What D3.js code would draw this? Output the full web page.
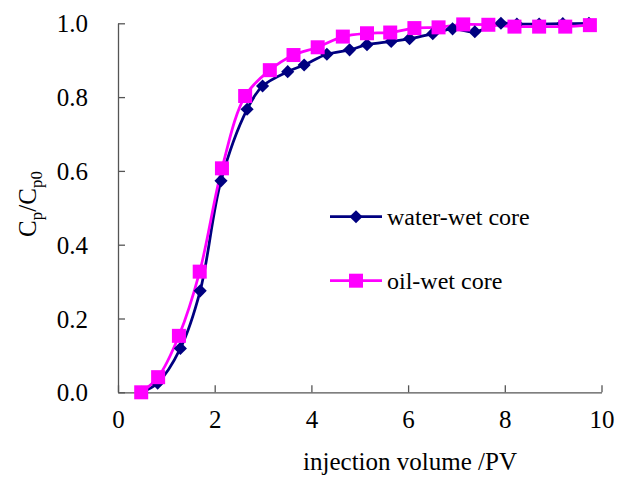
<!DOCTYPE html>
<html lang="en">
<head>
<meta charset="utf-8">
<script src="https://d3js.org/d3.v7.min.js"></script>
<style>
  body { margin: 0; background: #fff; }
  .axis path, .axis line { stroke: #555; stroke-width: 1.3; }
</style>
</head>
<body>
<svg id="chart" width="629" height="480"></svg>
<script>
// injection volume (PV) and Cp/Cp0
var waterX = [0.49, 0.82, 1.29, 1.70, 2.13, 2.67, 2.99, 3.51, 3.85, 4.32, 4.79, 5.15, 5.65, 6.03, 6.51, 6.92, 7.38, 7.92, 8.25, 8.71, 9.20, 9.74];
var waterY = [0.0, 0.025, 0.119, 0.275, 0.573, 0.767, 0.830, 0.869, 0.887, 0.916, 0.928, 0.942, 0.951, 0.958, 0.972, 0.985, 0.977, 1.0, 0.998, 0.998, 0.999, 1.0];
var oilX = [0.48, 0.83, 1.26, 1.69, 2.15, 2.63, 3.14, 3.63, 4.13, 4.65, 5.15, 5.63, 6.13, 6.63, 7.14, 7.66, 8.20, 8.71, 9.25, 9.76];
var oilY = [0.0, 0.041, 0.153, 0.327, 0.607, 0.803, 0.873, 0.914, 0.935, 0.964, 0.973, 0.975, 0.987, 0.989, 0.997, 0.996, 0.991, 0.991, 0.991, 0.995];
var xTicks = [0, 2, 4, 6, 8, 10];
var yTicks = [0, 0.2, 0.4, 0.6, 0.8, 1.0];

var font = "'Liberation Serif', 'Times New Roman', serif";
var svg = d3.select("#chart");
var plotL = 118, plotR = 601.5, plotT = 23.3, plotB = 392.3;

var x = d3.scaleLinear().domain([0, 10]).range([plotL, plotR]);
var y = d3.scaleLinear().domain([0, 1]).range([plotB, plotT]);

svg.append("g")
  .attr("class", "axis")
  .attr("transform", "translate(0," + plotB + ")")
  .call(d3.axisBottom(x).tickValues(xTicks).tickFormat(d3.format("d"))
    .tickSizeInner(-7).tickSizeOuter(0).tickPadding(18))
  .attr("font-family", font).attr("font-size", 25)
  .call(g => g.selectAll("text").attr("dy", "0.71em").attr("fill", "#000"));

svg.append("g")
  .attr("class", "axis")
  .attr("transform", "translate(" + plotL + ",0)")
  .call(d3.axisLeft(y).tickValues(yTicks).tickFormat(d3.format(".1f"))
    .tickSizeInner(-7).tickSizeOuter(0).tickPadding(30))
  .attr("font-family", font).attr("font-size", 25)
  .call(g => g.selectAll("text").attr("dy", "0.34em").attr("fill", "#000"));

var line = d3.line().x(d => x(d[0])).y(d => y(d[1])).curve(d3.curveCatmullRom.alpha(0.5));

var water = waterX.map((v, i) => [v, waterY[i]]);
var oil = oilX.map((v, i) => [v, oilY[i]]);

var navy = "#000080", magenta = "#ff00ff";

svg.append("path").datum(water).attr("d", line)
  .attr("fill", "none").attr("stroke", navy).attr("stroke-width", 2.75);
svg.append("path").datum(oil).attr("d", line)
  .attr("fill", "none").attr("stroke", magenta).attr("stroke-width", 2.75);

var diamond = d3.symbol().type(d3.symbolDiamond2).size(110);

svg.append("g").selectAll("path")
  .data(water).enter().append("path")
  .attr("d", diamond)
  .attr("transform", d => "translate(" + x(d[0]) + "," + y(d[1]) + ")")
  .attr("fill", navy);

svg.append("g").selectAll("rect")
  .data(oil).enter().append("rect")
  .attr("x", d => x(d[0]) - 7).attr("y", d => y(d[1]) - 7)
  .attr("width", 14).attr("height", 14)
  .attr("fill", magenta);

// legend
var legend = [
  {name: "water-wet core", color: navy, shape: "diamond", y: 216.7},
  {name: "oil-wet core", color: magenta, shape: "square", y: 280.7}
];
legend.forEach(function(l) {
  svg.append("line").attr("x1", 330).attr("x2", 382).attr("y1", l.y).attr("y2", l.y)
    .attr("stroke", l.color).attr("stroke-width", 2.75);
  if (l.shape == "diamond") {
    svg.append("path").attr("d", diamond).attr("fill", l.color)
      .attr("transform", "translate(356," + l.y + ")");
  } else {
    svg.append("rect").attr("x", 349).attr("y", l.y - 7).attr("width", 14).attr("height", 14)
      .attr("fill", l.color);
  }
  svg.append("text").attr("x", 387).attr("y", l.y + 8.5)
    .attr("font-family", font).attr("font-size", 24).text(l.name);
});

// axis titles
svg.append("text").attr("x", 410).attr("y", 470).attr("text-anchor", "middle")
  .attr("font-family", font).attr("font-size", 25).text("injection volume /PV");

var yt = svg.append("text").attr("transform", "translate(36,204) rotate(-90)")
  .attr("text-anchor", "middle").attr("font-family", font).attr("font-size", 25);
yt.append("tspan").text("C");
yt.append("tspan").attr("font-size", 17).attr("dy", 6).text("p");
yt.append("tspan").attr("dy", -6).text("/C");
yt.append("tspan").attr("font-size", 17).attr("dy", 6).text("p0");
</script>
</body>
</html>
